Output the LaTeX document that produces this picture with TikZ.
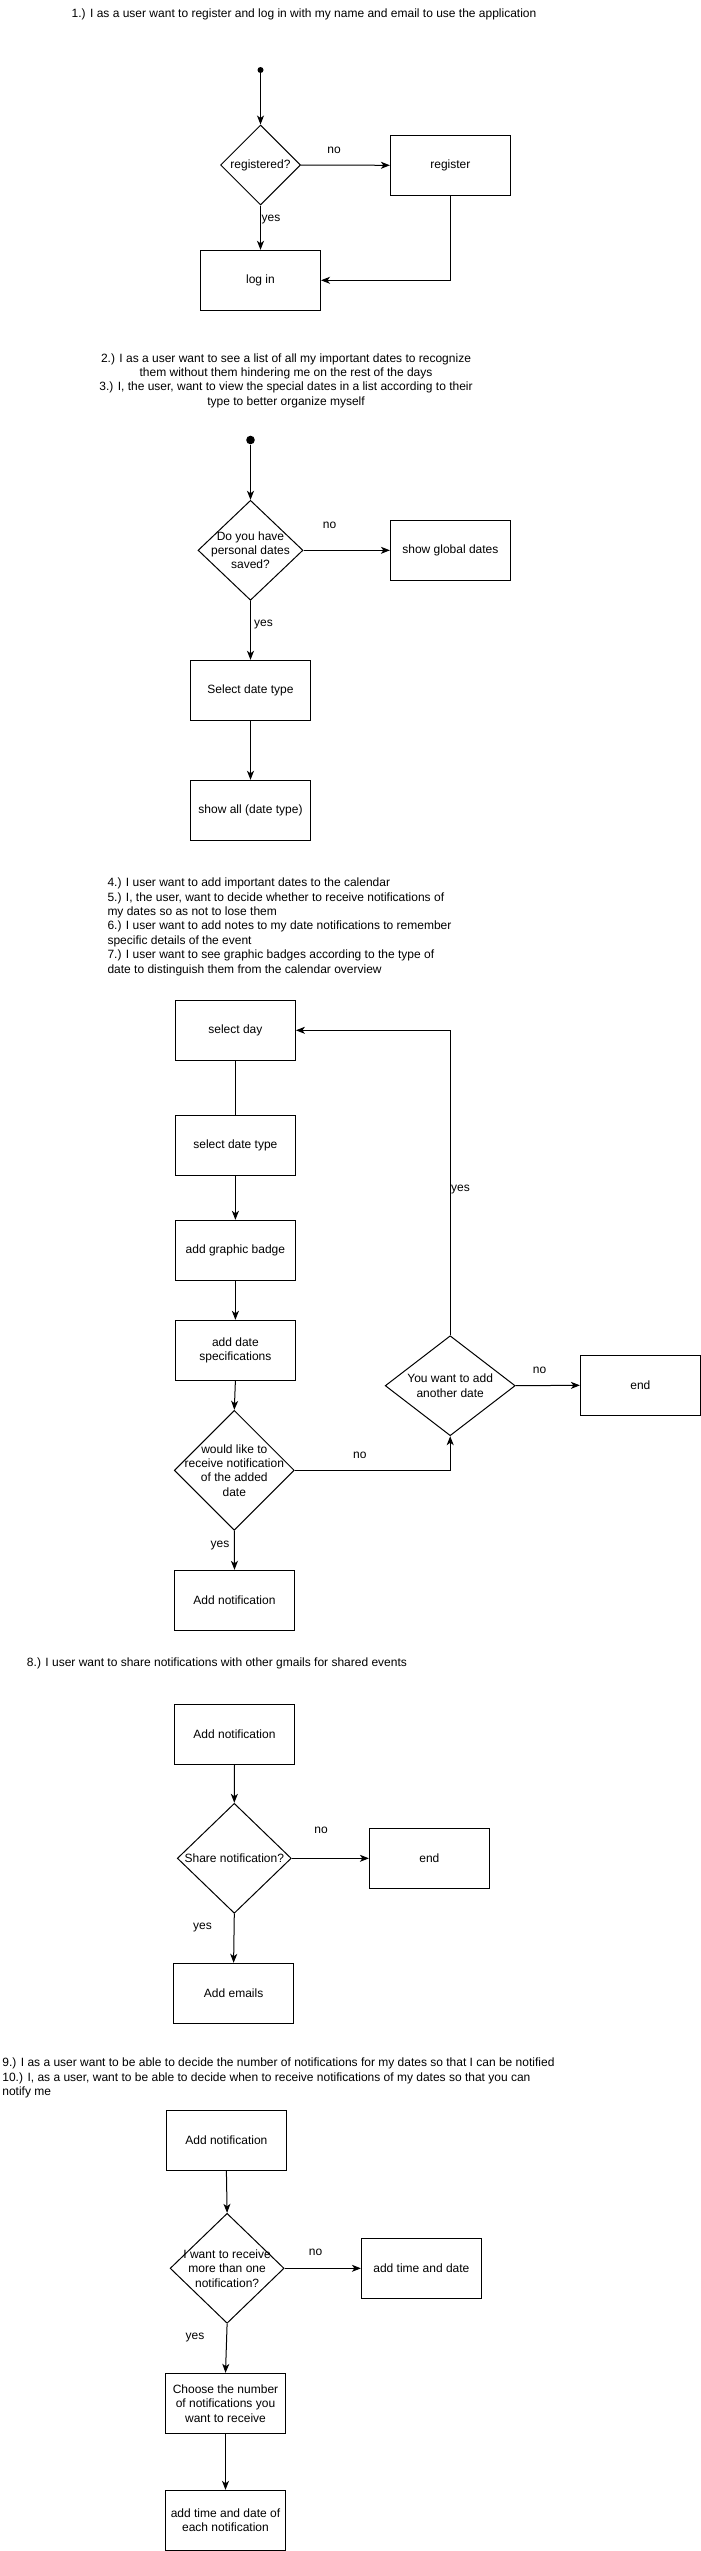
\documentclass[tikz,border=0pt]{standalone}
\usepackage{fontspec}
\setmainfont{Liberation Sans}
\usetikzlibrary{shapes.geometric,arrows.meta}
\begin{document}
\begin{tikzpicture}[x=1bp,y=-1bp,
  font=\fontsize{12bp}{14.4bp}\selectfont,
  every node/.style={text=black},
  box/.style={draw=black,line width=1bp,minimum width=120bp,minimum height=60bp,inner sep=0pt,align=center},
  dec/.style={draw=black,line width=1bp,diamond,inner sep=0pt},
  dtxt/.style={inner sep=0pt,align=center},
  lbl/.style={inner sep=0pt},
  ttl/.style={inner sep=0pt},
  startdot/.style={circle,fill=black,inner sep=0pt},
  arr/.style={line width=1bp,draw=black,-{Stealth[length=9bp,width=7bp,inset=2.5bp]}},
  ln/.style={line width=1bp,draw=black}
]
\fill[white] (0,0) rectangle (701,2551);
\useasboundingbox (0,0) rectangle (701,2551);

% ---------- Section 1 ----------
\node[ttl,anchor=west] (t1) at (71.5,14) {1.) I as a user want to register and log in with my name and email to use the application};
\node[startdot,minimum size=6bp] (s1) at (260.5,70) {};
\node[dec,minimum width=80bp,minimum height=80bp] (d1) at (260.5,165) {};
\node[dtxt] (d1t) at (d1) {registered?};
\node[box] (reg) at (450.4,165.3) {register};
\node[box] (login) at (260.5,280.3) {log in};
\draw[arr] (s1) -- (d1.north);
\draw[arr] (d1.east) -- (reg.west);
\node[lbl] (l1no) at (334,150) {no};
\draw[arr] (d1.south) -- (login.north);
\node[lbl,anchor=west] (l1yes) at (261.5,220) {yes};
\draw[arr] (reg.south) |- (login.east);

% ---------- Section 2 ----------
\node[ttl,align=center] (t2) at (286,380.5) {2.) I as a user want to see a list of all my important dates to recognize\\them without them hindering me on the rest of the days\\3.) I, the user, want to view the special dates in a list according to their\\type to better organize myself};
\node[startdot,minimum size=8.6bp] (s2) at (250.5,440) {};
\node[dec,minimum width=105bp,minimum height=100bp] (d2) at (250.5,550.3) {};
\node[dtxt] (d2t) at (d2) {Do you have\\personal dates\\saved?};
\node[box] (glob) at (450.4,550.3) {show global dates};
\node[box] (sel) at (250.5,690.3) {Select date type};
\node[box] (all) at (250.5,810.3) {show all (date type)};
\draw[arr] (s2) -- (d2.north);
\draw[arr] (d2.east) -- (glob.west);
\node[lbl] (l2no) at (329.5,525) {no};
\draw[arr] (d2.south) -- (sel.north);
\node[lbl,anchor=west] (l2yes) at (254,625) {yes};
\draw[arr] (sel.south) -- (all.north);

% ---------- Section 3 ----------
\node[ttl,align=left,anchor=west] (t3) at (107.3,926.7) {4.) I user want to add important dates to the calendar\\5.) I, the user, want to decide whether to receive notifications of\\my dates so as not to lose them\\6.) I user want to add notes to my date notifications to remember\\specific details of the event\\7.) I user want to see graphic badges according to the type of\\date to distinguish them from the calendar overview};
\node[box] (sday) at (235.4,1030.3) {select day};
\node[box] (sdt) at (235.4,1145.3) {select date type};
\node[box] (badge) at (235.4,1250.3) {add graphic badge};
\node[box] (spec) at (235.4,1350.3) {add date\\specifications};
\node[dec,minimum width=120bp,minimum height=120bp] (d3) at (234.3,1470.3) {};
\node[dtxt] (d3t) at (d3) {would like to\\receive notification\\of the added\\date};
\node[dec,minimum width=130bp,minimum height=100bp] (d4) at (450.2,1385.7) {};
\node[dtxt] (d4t) at (d4) {You want to add\\another date};
\node[box] (end1) at (640.4,1385.3) {end};
\node[box] (addn) at (234.5,1600.3) {Add notification};
\draw[ln] (sday.south) -- (sdt.north);
\draw[arr] (sdt.south) -- (badge.north);
\draw[arr] (badge.south) -- (spec.north);
\draw[arr] (spec.south) -- (d3.north);
\draw[arr] (d3.east) -| (d4.south);
\node[lbl] (l3no) at (359.9,1455) {no};
\draw[arr] (d4.east) -- (end1.west);
\node[lbl] (l4no) at (539.6,1370) {no};
\draw[arr] (d4.north) |- (sday.east);
\node[lbl,anchor=west] (l4yes) at (451,1190) {yes};
\draw[arr] (d3.south) -- (addn.north);
\node[lbl] (l3yes) at (220,1545) {yes};

% ---------- Section 4 ----------
\node[ttl,anchor=west] (t4) at (26.8,1663.7) {8.) I user want to share notifications with other gmails for shared events};
\node[box] (addn2) at (234.5,1734.3) {Add notification};
\node[dec,minimum width=114bp,minimum height=110bp] (d5) at (234.3,1858.3) {};
\node[dtxt] (d5t) at (d5) {Share notification?};
\node[box] (end2) at (429.4,1858.3) {end};
\node[box] (emails) at (233.6,1993.3) {Add emails};
\draw[arr] (addn2.south) -- (d5.north);
\draw[arr] (d5.east) -- (end2.west);
\node[lbl] (l5no) at (321,1830.7) {no};
\draw[arr] (d5.south) -- (emails.north);
\node[lbl] (l5yes) at (202.5,1927.7) {yes};

% ---------- Section 5 ----------
\node[ttl,align=left,anchor=west] (t5) at (2.2,2078.2) {9.) I as a user want to be able to decide the number of notifications for my dates so that I can be notified\\10.) I, as a user, want to be able to decide when to receive notifications of my dates so that you can\\notify me};
\node[box] (addn3) at (226.4,2140.3) {Add notification};
\node[dec,minimum width=114bp,minimum height=110bp] (d6) at (227.1,2268.3) {};
\node[dtxt] (d6t) at (d6) {I want to receive\\more than one\\notification?};
\node[box] (tad) at (421.4,2268.3) {add time and date};
\node[box] (choose) at (225.5,2403.3) {Choose the number\\of notifications you\\want to receive};
\node[box] (each) at (225.5,2520.3) {add time and date of\\each notification};
\draw[arr] (addn3.south) -- (d6.north);
\draw[arr] (d6.east) -- (tad.west);
\node[lbl] (l6no) at (315.6,2252.7) {no};
\draw[arr] (d6.south) -- (choose.north);
\node[lbl] (l6yes) at (195,2337.7) {yes};
\draw[arr] (choose.south) -- (each.north);
\end{tikzpicture}
\end{document}
